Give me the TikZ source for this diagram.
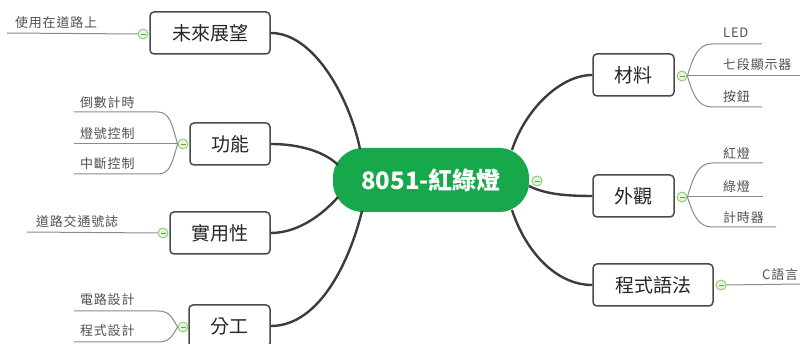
\documentclass[tikz,border=0pt]{standalone}
\usepackage{fontspec}
\setmainfont{Noto Sans CJK TC}
\definecolor{pillgreen}{HTML}{17A84B}
\definecolor{conn}{HTML}{3C3C3C}
\definecolor{boxline}{HTML}{4A4A4A}
\definecolor{leafline}{HTML}{8A8A8A}
\definecolor{leaftext}{HTML}{505050}
\definecolor{mfill}{HTML}{E4F4D8}
\definecolor{mline}{HTML}{86C46A}
\tikzset{
  topic/.style={draw=boxline, line width=1.5pt, rounded corners=4pt, fill=white,
    inner sep=0pt, minimum height=42pt, text=black!85,
    font=\fontsize{19}{21}\selectfont},
  center/.style={fill=pillgreen, rounded corners=30pt, minimum width=196pt,
    minimum height=64pt, inner sep=0pt, text=white,
    font=\fontsize{24}{26}\selectfont\bfseries},
  leaf/.style={inner sep=0pt, text=leaftext,
    font=\fontsize{13}{15}\selectfont\addfontfeature{LetterSpace=6}},
  conline/.style={draw=conn, line width=2.4pt},
  leafl/.style={draw=leafline, line width=1pt},
  minus/.style={circle, draw=mline, fill=mfill, line width=0.8pt, minimum size=10pt,
    inner sep=0pt, path picture={\draw[mline!80!black, line width=0.8pt]
      ([xshift=-2.5pt]path picture bounding box.center) -- ([xshift=2.5pt]path picture bounding box.center);}}
}
\begin{document}
\begin{tikzpicture}[x=1pt,y=-1pt]
\useasboundingbox (0,0) rectangle (800,344);

% center
\node[center] (c) at (431,180) {8051-紅綠燈};
\coordinate (cFut) at (360,149);
\coordinate (cFunc) at (338,165);
\coordinate (cPrac) at (338,197);
\coordinate (cDiv) at (362,211);
\coordinate (cMat) at (512,150);
\coordinate (cLook) at (529,186);
\coordinate (cProg) at (512,210);

% topics
\node[topic, minimum width=120pt] (fut) at (210,33) {未來展望};
\node[topic, minimum width=80pt] (func) at (230,144) {功能};
\node[topic, minimum width=100pt] (prac) at (220,233) {實用性};
\node[topic, minimum width=81pt] (div) at (229.5,326) {分工};
\node[topic, minimum width=81pt] (mat) at (633.5,75) {材料};
\node[topic, minimum width=81pt] (look) at (633.5,196) {外觀};
\node[topic, minimum width=120pt] (prog) at (653,285) {程式語法};

% connectors
\draw[conline] (fut.east) .. controls (315,33) and (350,100) .. (cFut);
\draw[conline] (func.east) .. controls (300,144) and (325,152) .. (cFunc);
\draw[conline] (prac.east) .. controls (300,233) and (325,212) .. (cPrac);
\draw[conline] (div.east) .. controls (320,326) and (350,260) .. (cDiv);
\draw[conline] (mat.west) .. controls (560,75) and (525,110) .. (cMat);
\draw[conline] (look.west) .. controls (565,196) and (545,194) .. (cLook);
\draw[conline] (prog.west) .. controls (555,285) and (525,250) .. (cProg);

% minus markers
\node[minus] (mc) at (537,181) {};
\node[minus] (mFut) at (143,34) {};
\node[minus] (mFunc) at (183,144) {};
\node[minus] (mPrac) at (163,233) {};
\node[minus] (mDiv) at (183,327) {};
\node[minus] (mMat) at (682,76) {};
\node[minus] (mLook) at (682,197) {};
\node[minus] (mProg) at (721,285) {};

% left leaves
\coordinate (eFut) at (7,33);
\draw[leafl] (mFut.west) -- (eFut);
\node[leaf, anchor=west] (lFut) at (15,23) {使用在道路上};

\coordinate (eF1) at (74,112);
\coordinate (eF2) at (74,144);
\coordinate (eF3) at (74,174);
\draw[leafl] (mFunc.west) .. controls (172,125) and (170,112) .. (158,112) -- (eF1);
\draw[leafl] (mFunc.west) -- (eF2);
\draw[leafl] (mFunc.west) .. controls (172,163) and (170,174) .. (158,174) -- (eF3);
\node[leaf, anchor=west] (lF1) at (80,103) {倒數計時};
\node[leaf, anchor=west] (lF2) at (80,134) {燈號控制};
\node[leaf, anchor=west] (lF3) at (80,164) {中斷控制};

\coordinate (ePrac) at (27,232);
\draw[leafl] (mPrac.west) -- (ePrac);
\node[leaf, anchor=west] (lPrac) at (36,222) {道路交通號誌};

\coordinate (eD1) at (74,311);
\coordinate (eD2) at (74,342);
\draw[leafl] (mDiv.west) .. controls (172,318) and (170,311) .. (158,311) -- (eD1);
\draw[leafl] (mDiv.west) .. controls (172,336) and (170,342) .. (158,342) -- (eD2);
\node[leaf, anchor=west] (lD1) at (80,300) {電路設計};
\node[leaf, anchor=west] (lD2) at (80,331) {程式設計};

% right leaves
\coordinate (eM1) at (762,44);
\coordinate (eM2) at (800,76);
\coordinate (eM3) at (762,107);
\draw[leafl] (mMat.east) .. controls (693,57) and (698,44) .. (712,44) -- (eM1);
\draw[leafl] (mMat.east) -- (eM2);
\draw[leafl] (mMat.east) .. controls (693,95) and (698,107) .. (712,107) -- (eM3);
\node[leaf, anchor=west] (lM1) at (723,33) {LED};
\node[leaf, anchor=west] (lM2) at (723,65) {七段顯示器};
\node[leaf, anchor=west] (lM3) at (723,97) {按鈕};

\coordinate (eL1) at (763,163);
\coordinate (eL2) at (763,197);
\coordinate (eL3) at (776,227);
\draw[leafl] (mLook.east) .. controls (693,178) and (698,163) .. (712,163) -- (eL1);
\draw[leafl] (mLook.east) -- (eL2);
\draw[leafl] (mLook.east) .. controls (693,214) and (698,227) .. (712,227) -- (eL3);
\node[leaf, anchor=west] (lL1) at (723,154) {紅燈};
\node[leaf, anchor=west] (lL2) at (723,187) {綠燈};
\node[leaf, anchor=west] (lL3) at (723,218) {計時器};

\coordinate (eP) at (800,284);
\draw[leafl] (mProg.east) -- (eP);
\node[leaf, anchor=west] (lP) at (762,275) {C語言};
\end{tikzpicture}
\end{document}
